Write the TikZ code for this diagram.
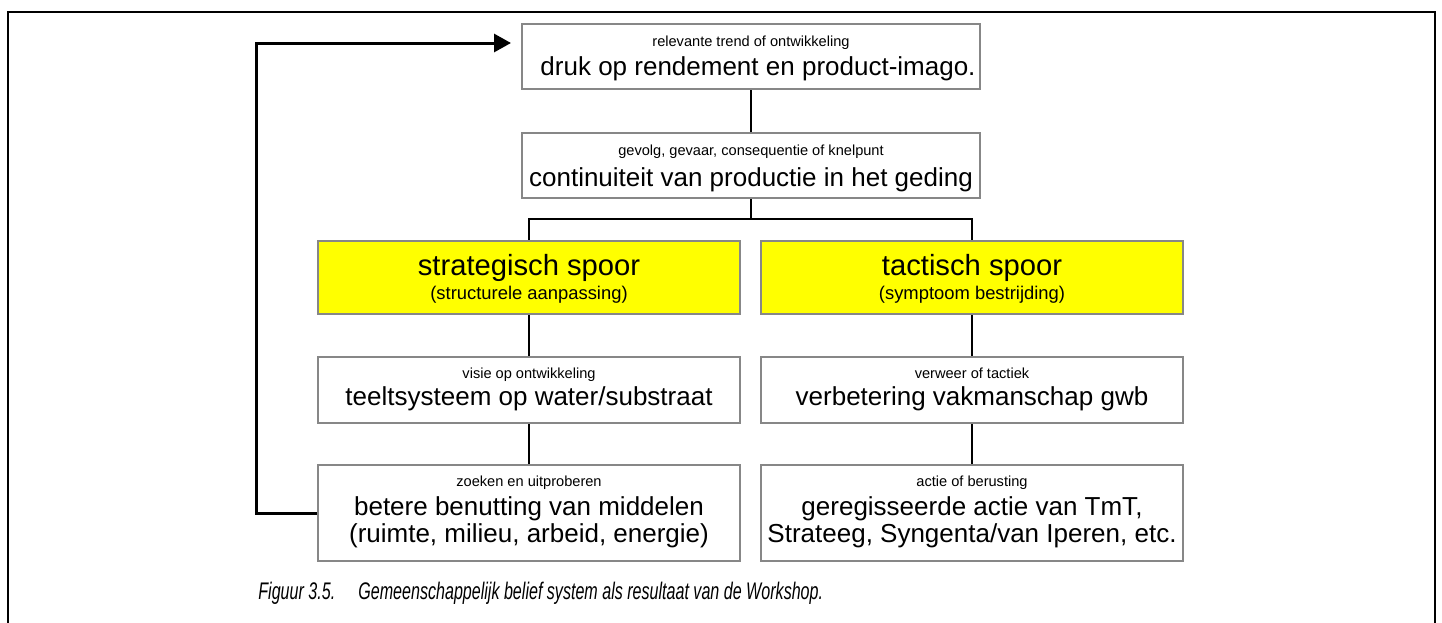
\documentclass[tikz,border=0pt]{standalone}
\usepackage{fontspec}
\setmainfont{Liberation Sans}
\newfontfamily\capfont{Liberation Sans}[FakeStretch=0.67]
\usetikzlibrary{arrows.meta,calc}
\definecolor{boxgray}{RGB}{135,135,135}
\definecolor{trackyellow}{RGB}{255,255,0}

\begin{document}
\begin{tikzpicture}[x=0.5pt,y=-0.5pt,
  boxbase/.style={draw=boxgray,line width=1pt,inner sep=0pt},
  topbox/.style={boxbase,fill=white,minimum width=229pt,minimum height=32.5pt},
  trackbox/.style={boxbase,fill=trackyellow,minimum width=211pt,minimum height=36.5pt},
  midbox/.style={boxbase,fill=white,minimum width=211pt,minimum height=33pt},
  lowbox/.style={boxbase,fill=white,minimum width=211pt,minimum height=48pt},
  txtsmall/.style={anchor=base,inner sep=0pt,font=\fontsize{7.3}{8}\selectfont},
  txtbig/.style={anchor=base,inner sep=0pt,font=\fontsize{13}{15}\selectfont},
  txttitle/.style={anchor=base,inner sep=0pt,font=\fontsize{14.6}{17}\selectfont},
  txtsub/.style={anchor=base,inner sep=0pt,font=\fontsize{9.2}{11}\selectfont},
  link/.style={draw=black,line width=1pt},
  feedback/.style={draw=black,line width=1.5pt,-{Triangle[length=8.5pt,width=9pt]}},
  frame/.style={draw=black,line width=1.3pt},
  caption/.style={inner sep=0pt,font=\capfont\itshape\fontsize{12}{14}\selectfont}]

\useasboundingbox (0,0) rectangle (1442,622);

% outer frame, open at the bottom
\draw[frame] (8,626) -- (8,12) -- (1435,12) -- (1435,626);

% trend and consequence
\node[topbox] (b1) at (751,56.5) {};
\node[txtsmall] (b1s) at ($(b1.north)+(0,23)$) {relevante trend of ontwikkeling};
\node[txtbig] (b1b) at ($(b1.north)+(7,52)$) {druk op rendement en product-imago.};

\node[topbox] (b2) at (751,165.5) {};
\node[txtsmall] (b2s) at ($(b2.north)+(0,23)$) {gevolg, gevaar, consequentie of knelpunt};
\node[txtbig] (b2b) at ($(b2.north)+(0,54)$) {continuiteit van productie in het geding};

\coordinate (split) at (751,219);

% strategic track
\node[trackbox] (ys) at (529,277.5) {};
\node[txttitle] (yst) at ($(ys.north)+(0,35)$) {strategisch spoor};
\node[txtsub] (yss) at ($(ys.north)+(0,59)$) {(structurele aanpassing)};

\node[midbox] (vs) at (529,390) {};
\node[txtsmall] (vss) at ($(vs.north)+(0,22)$) {visie op ontwikkeling};
\node[txtbig] (vsb) at ($(vs.north)+(0,49)$) {teeltsysteem op water/substraat};

\node[lowbox] (ls) at (529,513) {};
\node[txtsmall] (lss) at ($(ls.north)+(0,22)$) {zoeken en uitproberen};
\node[txtbig] (lsb) at ($(ls.north)+(0,51)$) {betere benutting van middelen};
\node[txtbig] (lsc) at ($(ls.north)+(0,78)$) {(ruimte, milieu, arbeid, energie)};

% tactical track
\node[trackbox] (yt) at (972,277.5) {};
\node[txttitle] (ytt) at ($(yt.north)+(0,35)$) {tactisch spoor};
\node[txtsub] (yts) at ($(yt.north)+(0,59)$) {(symptoom bestrijding)};

\node[midbox] (vt) at (972,390) {};
\node[txtsmall] (vts) at ($(vt.north)+(0,22)$) {verweer of tactiek};
\node[txtbig] (vtb) at ($(vt.north)+(0,49)$) {verbetering vakmanschap gwb};

\node[lowbox] (lt) at (972,513) {};
\node[txtsmall] (lts) at ($(lt.north)+(0,22)$) {actie of berusting};
\node[txtbig] (ltb) at ($(lt.north)+(0,51)$) {geregisseerde actie van TmT,};
\node[txtbig] (ltc) at ($(lt.north)+(0,78)$) {Strateeg, Syngenta/van Iperen, etc.};

% connectors
\draw[link] (b1.south) -- (b2.north);
\draw[link] (b2.south) -- (split);
\draw[link] (split) -| (ys.north);
\draw[link] (split) -| (yt.north);
\draw[link] (ys.south) -- (vs.north);
\draw[link] (vs.south) -- (ls.north);
\draw[link] (yt.south) -- (vt.north);
\draw[link] (vt.south) -- (lt.north);

% feedback loop back to the trend
\coordinate (fbcorner) at (256,43);
\coordinate (fbtip) at ($(b1.west |- fbcorner)+(-10,0)$);
\draw[feedback] (ls.west) -| (fbcorner) -- (fbtip);

% caption
\node[caption,anchor=base west] (cap) at (258,599)
  {\makebox[50pt][l]{Figuur 3.5.}Gemeenschappelijk belief system als resultaat van de Workshop.};
\end{tikzpicture}
\end{document}
